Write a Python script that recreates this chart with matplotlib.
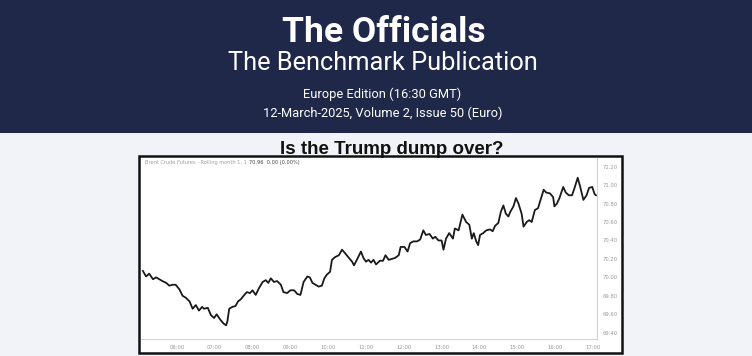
import matplotlib.pyplot as plt
from matplotlib.patches import Rectangle
from matplotlib.ticker import FixedLocator

# Brent Crude Futures, rolling month 1, intraday 12-Mar-2025
times = ["05:06", "05:11", "05:16", "05:22", "05:27", "05:32", "05:37", "05:43", "05:48", "05:53",
         "05:58", "06:04", "06:09", "06:14", "06:20", "06:25", "06:30", "06:35", "06:40", "06:43",
         "06:49", "06:54", "06:59", "07:03", "07:09", "07:14", "07:18", "07:20", "07:23", "07:28",
         "07:33", "07:37", "07:41", "07:47", "07:51", "07:56", "08:00", "08:05", "08:10", "08:16",
         "08:21", "08:25", "08:29", "08:34", "08:39", "08:45", "08:49", "08:55", "09:00", "09:06",
         "09:11", "09:16", "09:21", "09:27", "09:31", "09:35", "09:40", "09:45", "09:50", "09:54",
         "09:58", "10:03", "10:06", "10:11", "10:17", "10:22", "10:27", "10:33", "10:38", "10:41",
         "10:47", "10:52", "10:56", "11:00", "11:04", "11:08", "11:12", "11:16", "11:22", "11:27",
         "11:31", "11:36", "11:41", "11:46", "11:52", "11:55", "12:01", "12:06", "12:10", "12:15",
         "12:21", "12:26", "12:31", "12:35", "12:41", "12:46", "12:50", "12:55", "13:00", "13:03",
         "13:07", "13:12", "13:18", "13:21", "13:27", "13:33", "13:39", "13:44", "13:48", "13:51",
         "13:55", "13:58", "14:01", "14:06", "14:11", "14:17", "14:21", "14:25", "14:30", "14:34",
         "14:38", "14:42", "14:46", "14:49", "14:54", "14:58", "15:02", "15:07", "15:10", "15:15",
         "15:19", "15:23", "15:28", "15:33", "15:38", "15:42", "15:46", "15:52", "15:57", "15:59",
         "16:03", "16:07", "16:13", "16:17", "16:22", "16:27", "16:31", "16:36", "16:40", "16:45",
         "16:50", "16:54", "16:59", "17:03", "17:05"]
prices = [70.07, 70.01, 70.04, 69.98, 70.00, 69.98, 69.96, 69.94, 69.91, 69.92,
          69.92, 69.87, 69.80, 69.78, 69.74, 69.66, 69.70, 69.64, 69.68, 69.66,
          69.67, 69.59, 69.56, 69.60, 69.54, 69.50, 69.48, 69.52, 69.66, 69.68,
          69.69, 69.74, 69.76, 69.81, 69.84, 69.83, 69.86, 69.81, 69.88, 69.95,
          69.97, 69.94, 69.99, 69.95, 69.96, 69.92, 69.84, 69.83, 69.86, 69.86,
          69.82, 69.81, 69.95, 70.01, 70.00, 69.94, 69.92, 69.90, 69.91, 69.99,
          70.03, 70.06, 70.19, 70.22, 70.24, 70.30, 70.26, 70.21, 70.17, 70.13,
          70.21, 70.28, 70.21, 70.17, 70.19, 70.16, 70.19, 70.14, 70.18, 70.18,
          70.24, 70.19, 70.20, 70.21, 70.24, 70.33, 70.33, 70.28, 70.37, 70.39,
          70.39, 70.41, 70.51, 70.46, 70.47, 70.42, 70.44, 70.40, 70.40, 70.30,
          70.42, 70.48, 70.42, 70.53, 70.51, 70.68, 70.60, 70.57, 70.42, 70.48,
          70.39, 70.35, 70.46, 70.48, 70.51, 70.52, 70.50, 70.56, 70.59, 70.71,
          70.78, 70.69, 70.66, 70.71, 70.77, 70.86, 70.80, 70.69, 70.55, 70.60,
          70.62, 70.60, 70.73, 70.75, 70.86, 70.95, 70.92, 70.91, 70.87, 70.77,
          70.80, 70.86, 70.98, 70.92, 70.89, 70.89, 70.97, 71.08, 70.98, 70.84,
          70.89, 70.97, 70.98, 70.90, 70.89]
hour_ticks = [6, 7, 8, 9, 10, 11, 12, 13, 14, 15, 16, 17]
price_ticks = [69.40, 69.60, 69.80, 70.00, 70.20, 70.40, 70.60, 70.80, 71.00, 71.20]

hours = [int(t[:2]) + int(t[3:]) / 60 for t in times]

W, H = 752, 356
fig = plt.figure(figsize=(W / 100, H / 100), dpi=100)
fig.patch.set_facecolor("#f1f3f8")

# navy header band
fig.patches.append(Rectangle((0, 1 - 133 / H), 1, 133 / H, transform=fig.transFigure,
                             facecolor="#1f2849", edgecolor="none", zorder=0))
fig.text(384 / W, 1 - 33 / H, "The Officials", color="white", fontsize=25.5,
         fontweight="bold", family="Roboto", ha="center", va="center")
fig.text(383 / W, 1 - 63 / H, "The Benchmark Publication", color="white", fontsize=18.3,
         family="Roboto", ha="center", va="center")
fig.text(382 / W, 1 - 94 / H, "Europe Edition (16:30 GMT)", color="white", fontsize=9.3,
         family="Roboto", ha="center", va="center")
fig.text(383 / W, 1 - 113 / H, "12-March-2025, Volume 2, Issue 50 (Euro)", color="white",
         fontsize=9.3, family="Roboto", ha="center", va="center")

fig.text(392 / W, 1 - 149 / H, "Is the Trump dump over?", color="#111111", fontsize=13.5,
         fontweight="bold", family="Liberation Sans", ha="center", va="center")

# black frame around chart screenshot
fig.patches.append(Rectangle((139 / W, 1 - 353 / H), (622 - 139) / W, (353 - 156) / H,
                             transform=fig.transFigure, facecolor="white",
                             edgecolor="#111111", linewidth=1.8, zorder=1))

ax = fig.add_axes([141 / W, 1 - 339 / H, (597 - 141) / W, (339 - 158) / H])
ax.set_facecolor("white")
ax.set_zorder(2)
ax.plot(hours, prices, color="#1a1a1a", linewidth=1.3)
ax.set_xlim(5.05, 17.11)
ax.set_ylim(69.332, 71.294)

for s in ["top", "left"]:
    ax.spines[s].set_visible(False)
for s in ["bottom", "right"]:
    ax.spines[s].set_color("#d4d4d4")
    ax.spines[s].set_linewidth(0.8)

ax.xaxis.set_major_locator(FixedLocator(hour_ticks))
ax.set_xticklabels([f"{h:02d}:00" for h in hour_ticks])
ax.yaxis.set_major_locator(FixedLocator(price_ticks))
ax.set_yticklabels([f"{p:.2f}" for p in price_ticks])
ax.yaxis.tick_right()
ax.tick_params(axis="both", length=0, labelsize=3.8, colors="#9a9a9a", pad=4)

lbl = ax.text(0.008, 0.975, "Brent Crude Futures - Rolling month 1, 1", transform=ax.transAxes,
              fontsize=3.6, color="#a0a0a0", va="center", ha="left")
ax.annotate("70.96  0.00 (0.00%)", xy=(1, 0.5), xycoords=lbl, xytext=(2, 0),
            textcoords="offset points", fontsize=3.6, color="#444444", va="center", ha="left")

fig.savefig("out.png", dpi=100, facecolor=fig.get_facecolor())
